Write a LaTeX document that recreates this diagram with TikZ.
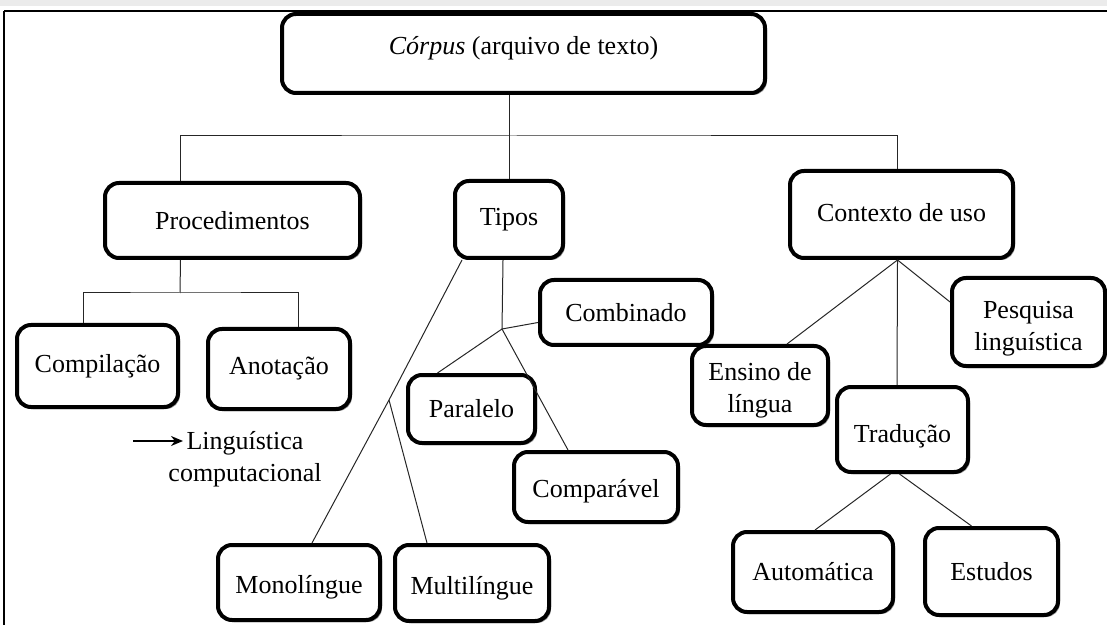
\documentclass[tikz,border=0pt]{standalone}
\usepackage{fontspec}
\setmainfont{Liberation Serif}
\usetikzlibrary{positioning,shadows,arrows.meta}
\newcommand{\dropstrut}[1]{\rule{0pt}{#1}}

\begin{document}
\begin{tikzpicture}[x=0.5pt, y=-0.5pt,
    box/.style={draw=black, line width=2pt, fill=white, rounded corners=7pt, align=center,
        font=\fontsize{13}{16}\selectfont,
        drop shadow={shadow xshift=1pt, shadow yshift=-1pt, fill=black!55, opacity=0.8}},
    link/.style={draw=black!85, line width=0.5pt}]
    \useasboundingbox (0,0) rectangle (1107,625);
    \fill[black!8] (0,0) rectangle (1107,6);
    \draw[line width=1pt] (4,11) -- (1107,11);
    \draw[line width=0.6pt] (4,11) -- (4,625);

    \node[box, minimum width=241.5pt, minimum height=39.5pt, text depth=8pt] (corpus) at (523.5,53.5) {\textit{Córpus} (arquivo de texto)};
    \node[box, minimum width=127.5pt, minimum height=37.5pt] (proc) at (232.5,220.5) {Procedimentos};
    \node[box, minimum width=54pt, minimum height=38.5pt] (tipos) at (509,219.5) {Tipos};
    \node[box, minimum width=111.5pt, minimum height=43.5pt, text depth=2pt] (contexto) at (901.5,214.5) {Contexto de uso};
    \node[box, minimum width=80.5pt, minimum height=41pt] (compil) at (97.5,366) {Compilação};
    \node[box, minimum width=71pt, minimum height=40pt] (anot) at (279,369) {Anotação};
    \node[box, minimum width=86pt, minimum height=32.5pt] (combin) at (626,312.5) {Combinado};
    \node[box, minimum width=63.5pt, minimum height=34pt] (paral) at (471.5,409) {Paralelo};
    \node[box, minimum width=82pt, minimum height=35pt] (compar) at (596,487) {\dropstrut{13pt}Comparável};
    \node[box, minimum width=81pt, minimum height=37.5pt] (mono) at (299,582.5) {\dropstrut{14pt}Monolíngue};
    \node[box, minimum width=77pt, minimum height=38pt] (multi) at (472,583) {\dropstrut{14pt}Multilíngue};
    \node[box, minimum width=68pt, minimum height=39.5pt] (ensino) at (760,385.5) {\dropstrut{14pt}Ensino de\\língua};
    \node[box, minimum width=76.5pt, minimum height=44pt] (pesq) at (1028.5,322) {\dropstrut{15.5pt}Pesquisa\\linguística};
    \node[box, minimum width=65.5pt, minimum height=42.5pt] (trad) at (902.5,429.5) {\dropstrut{16pt}Tradução};
    \node[box, minimum width=80pt, minimum height=40pt] (autom) at (813,572) {Automática};
    \node[box, minimum width=66.5pt, minimum height=43.5pt] (estud) at (991.5,571.5) {Estudos};

    \node[align=center, font=\fontsize{13}{16}\selectfont] (lingcomp) at (245,459.5) {Linguística\\computacional};
    \coordinate (arrowstart) at (133,441);
    \coordinate (arrowend) at (183,441);
    \draw[line width=0.9pt, -{Stealth[length=6pt, width=5pt]}] (arrowstart) -- (arrowend);

    \coordinate (topbar) at (513,136);
    \coordinate (procbar) at (180,293);
    \coordinate (monosplit) at (389,400);
    \coordinate (parsplit) at (502,329);

    \draw[link] (tipos.north |- corpus.south) -- (tipos.north);
    \draw[link] ([xshift=-26pt]proc.north) |- (topbar) -| ([xshift=-2pt]contexto.north);
    \draw[link] ([xshift=-26pt]proc.south) -- (procbar);
    \draw[link] ([xshift=-7pt]compil.north) |- (procbar) -| ([xshift=9.5pt]anot.north);

    \draw[link] ([xshift=-23.5pt]tipos.south) -- (monosplit) -- ([xshift=6.5pt]mono.north);
    \draw[link] (monosplit) -- ([xshift=-22.5pt]multi.north);
    \draw[link] ([xshift=-3pt]tipos.south) -- (parsplit);
    \draw[link] (parsplit) -- ([yshift=-5pt]combin.west);
    \draw[link] (parsplit) -- ([xshift=-17pt]paral.north);
    \draw[link] (parsplit) -- ([xshift=-14pt]compar.north);

    \draw[link] ([xshift=-2pt]contexto.south) -- ([xshift=13.5pt]ensino.north);
    \draw[link] ([xshift=-2pt]contexto.south) -- ([xshift=-2.75pt]trad.north);
    \draw[link] ([xshift=-2pt]contexto.south) -- ([yshift=10pt]pesq.west);
    \draw[link] ([xshift=-6pt]trad.south) -- ([xshift=1pt]autom.north);
    \draw[link] ([xshift=-1.5pt]trad.south) -- ([xshift=-10pt]estud.north);
\end{tikzpicture}
\end{document}
